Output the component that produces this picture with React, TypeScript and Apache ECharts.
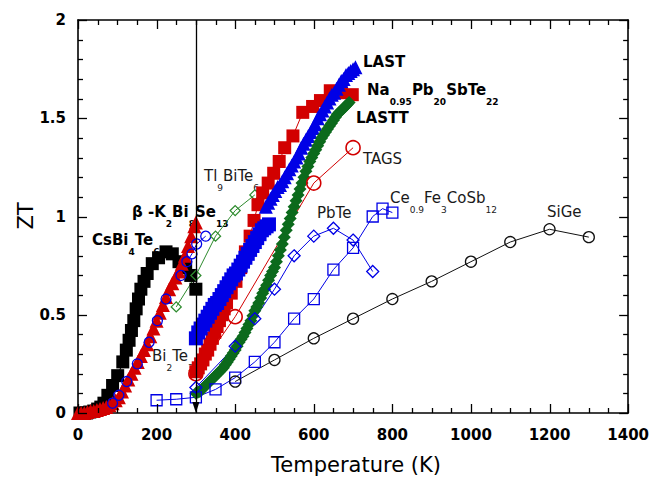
import React, { useEffect, useRef } from "react";
import * as echarts from "echarts";

// ---------- data: [Temperature (K), ZT] ----------
const csBi4Te6 = [[5,0],[14,0],[22,0],[30,0.005],[40,0.01],[50,0.02],[58,0.03],[66,0.05],[76,0.09],[88,0.14],[101,0.19],[114,0.26],[123,0.32],[130,0.37],[136,0.42],[142,0.47],[148,0.53],[154,0.58],[160,0.63],[168,0.67],[176,0.71],[189,0.76],[205,0.79],[224,0.82],[240,0.81],[257,0.77],[274,0.74],[287,0.70],[300,0.63]];
const betaK2Bi8Se13 = [[0,0],[8,0],[16,0],[24,0.005],[32,0.01],[40,0.01],[48,0.015],[56,0.02],[64,0.025],[72,0.03],[80,0.04],[88,0.05],[96,0.065],[104,0.08],[112,0.11],[120,0.14],[128,0.17],[136,0.2],[144,0.23],[152,0.26],[160,0.29],[168,0.32],[176,0.35],[184,0.39],[192,0.43],[200,0.47],[208,0.51],[216,0.55],[224,0.59],[232,0.63],[240,0.66],[248,0.69],[256,0.72],[264,0.76],[272,0.8],[280,0.85],[288,0.9],[296,0.95],[300,0.97]];
const bi2Te3 = [[88,0.05],[104,0.09],[124,0.16],[151,0.25],[181,0.36],[202,0.47],[224,0.58],[262,0.70],[277,0.77],[290,0.81],[302,0.86],[325,0.90]];
const tl9BiTe6 = [[250,0.54],[300,0.70],[350,0.90],[400,1.03],[450,1.11]];
const naPbSbTe = [[300,0.21],[306,0.23],[312,0.25],[318,0.27],[324,0.30],[330,0.32],[336,0.35],[342,0.38],[348,0.41],[354,0.44],[360,0.47],[366,0.50],[372,0.53],[378,0.56],[390,0.61],[402,0.67],[414,0.74],[426,0.82],[438,0.90],[448,0.98],[458,1.06],[470,1.12],[484,1.17],[498,1.22],[512,1.28],[526,1.35],[547,1.41],[572,1.53],[597,1.56],[617,1.59],[642,1.64],[670,1.63],[698,1.62]];
const lastSquares = [[300,0.38],[306,0.41],[312,0.43],[318,0.45],[324,0.47],[330,0.49],[336,0.51],[342,0.53],[348,0.55],[354,0.56],[360,0.58],[366,0.60],[372,0.62],[378,0.64],[384,0.66],[390,0.68],[396,0.70],[402,0.71],[408,0.73],[414,0.75],[420,0.77],[426,0.79],[432,0.81],[438,0.83],[444,0.85],[450,0.87],[456,0.89],[462,0.91],[468,0.93],[474,0.94],[480,0.95],[486,0.96]];
const last = [[478,1.05],[484,1.07],[490,1.09],[496,1.11],[502,1.13],[508,1.15],[514,1.16],[520,1.18],[526,1.2],[532,1.22],[538,1.24],[544,1.26],[550,1.28],[556,1.3],[562,1.32],[568,1.35],[574,1.37],[580,1.39],[586,1.41],[592,1.43],[598,1.45],[604,1.47],[610,1.5],[616,1.52],[622,1.54],[628,1.56],[634,1.58],[640,1.6],[646,1.62],[652,1.63],[658,1.65],[664,1.67],[670,1.69],[676,1.7],[682,1.72],[688,1.73],[694,1.74],[700,1.75],[706,1.76]];
const lastt = [[300,0.10],[305,0.105],[310,0.11],[315,0.12],[320,0.13],[325,0.14],[330,0.15],[335,0.16],[340,0.17],[345,0.18],[350,0.19],[355,0.20],[360,0.21],[365,0.22],[370,0.23],[375,0.245],[380,0.26],[385,0.275],[390,0.29],[395,0.305],[400,0.32],[405,0.34],[410,0.36],[415,0.375],[420,0.39],[425,0.41],[430,0.43],[435,0.45],[440,0.47],[445,0.495],[450,0.52],[455,0.54],[460,0.56],[465,0.585],[470,0.61],[475,0.63],[480,0.65],[485,0.675],[490,0.70],[495,0.72],[500,0.74],[505,0.77],[510,0.80],[515,0.83],[520,0.86],[525,0.895],[530,0.93],[535,0.96],[540,0.99],[545,1.02],[550,1.05],[555,1.08],[560,1.11],[565,1.14],[570,1.17],[575,1.20],[580,1.23],[585,1.255],[590,1.28],[595,1.30],[600,1.32],[605,1.34],[610,1.36],[615,1.38],[620,1.40],[625,1.415],[630,1.43],[635,1.445],[640,1.46],[645,1.475],[650,1.49],[655,1.505],[660,1.52],[665,1.53],[670,1.54],[675,1.55],[680,1.56],[685,1.57],[690,1.58]];
const tags = [[300,0.2],[400,0.49],[600,1.17],[700,1.35]];
const pbTe = [[300,0.13],[400,0.34],[450,0.48],[500,0.63],[550,0.8],[600,0.9],[650,0.94],[700,0.88],[750,0.72]];
const ceFeCoSb = [[200,0.065],[250,0.07],[300,0.08],[350,0.12],[400,0.18],[450,0.26],[500,0.36],[550,0.48],[600,0.58],[650,0.73],[700,0.84],[750,1.0],[775,1.04],[800,1.02]];
const siGe = [[400,0.16],[500,0.27],[600,0.38],[700,0.48],[800,0.58],[900,0.67],[1000,0.77],[1100,0.87],[1200,0.935],[1300,0.895]];

// ---------- axes ----------
const X_MIN = 0, X_MAX = 1400, X_STEP = 200, X_MINOR_SPLIT = 4;
const Y_MIN = 0, Y_MAX = 2, Y_STEP = 0.5, Y_MINOR_SPLIT = 5;
const X_NAME = "Temperature (K)";
const Y_NAME = "ZT";

// tick values (major and minor) derived from the axis settings
const xTickValues: [number, boolean][] = [];
for (let i = 0; i <= ((X_MAX - X_MIN) / X_STEP) * X_MINOR_SPLIT; i++) {
  xTickValues.push([X_MIN + (i * X_STEP) / X_MINOR_SPLIT, i % X_MINOR_SPLIT === 0]);
}
const yTickValues: [number, boolean][] = [];
for (let i = 0; i <= ((Y_MAX - Y_MIN) / Y_STEP) * Y_MINOR_SPLIT; i++) {
  yTickValues.push([+(Y_MIN + (i * Y_STEP) / Y_MINOR_SPLIT).toFixed(3), i % Y_MINOR_SPLIT === 0]);
}

const FONT = "DejaVu Sans";
const RED = "#d20000";
const BLUE = "#0000e6";
const GREEN = "#0c6a1c";
const LGREEN = "#2e8b2e";

type Part = [string, number];
const annotations: { parts: Part[]; x: number; cy: number; bold: boolean }[] = [
  { parts: [["CsBi", 0], ["4", 1], ["Te", 0], ["6", 1]], x: 92, cy: 240, bold: true },
  { parts: [["β -K", 0], ["2", 1], ["Bi", 0], ["8", 1], ["Se", 0], ["13", 1]], x: 132, cy: 212, bold: true },
  { parts: [["Tl", 0], ["9", 1], ["BiTe", 0], ["6", 1]], x: 204, cy: 176, bold: false },
  { parts: [["Bi", 0], ["2", 1], ["Te", 0], ["3", 1]], x: 152, cy: 356, bold: false },
  { parts: [["LAST", 0]], x: 363, cy: 62, bold: true },
  { parts: [["Na", 0], ["0.95", 1], ["Pb", 0], ["20", 1], ["SbTe", 0], ["22", 1]], x: 367, cy: 90, bold: true },
  { parts: [["LASTT", 0]], x: 356, cy: 118, bold: true },
  { parts: [["TAGS", 0]], x: 363, cy: 159, bold: false },
  { parts: [["PbTe", 0]], x: 317, cy: 213, bold: false },
  { parts: [["Ce", 0], ["0.9", 1], ["Fe", 0], ["3", 1], ["CoSb", 0], ["12", 1]], x: 390, cy: 198, bold: false },
  { parts: [["SiGe", 0]], x: 547, cy: 212, bold: false },
];

function mk(name: string, data: number[][], symbol: string, size: number, color: string, filled: boolean, extra: any = {}) {
  return {
    type: "line",
    name,
    data,
    symbol,
    symbolSize: size,
    showSymbol: true,
    clip: false,
    lineStyle: { color, width: 1 },
    itemStyle: filled
      ? { color, borderWidth: 0 }
      : { color: "rgba(0,0,0,0)", borderColor: color, borderWidth: 1.3 },
    emphasis: { disabled: true },
    ...extra,
  };
}

function makeAxis(kind: "x" | "y", position: string, showLabel: boolean) {
  return {
    type: "value",
    position,
    min: kind === "x" ? X_MIN : Y_MIN,
    max: kind === "x" ? X_MAX : Y_MAX,
    interval: kind === "x" ? X_STEP : Y_STEP,
    axisLine: { show: true, onZero: false, lineStyle: { color: "#000", width: 1.6 } },
    axisTick: { show: false },
    minorTick: { show: false },
    splitLine: { show: false },
    axisLabel: {
      show: showLabel,
      color: "#000",
      fontFamily: FONT,
      fontWeight: "bold",
      fontSize: 15,
      margin: kind === "x" ? 14 : 12,
      formatter: (v: number) => String(v),
    },
  };
}

export default function App() {
  const ref = useRef<HTMLDivElement>(null);
  useEffect(() => {
    if (!ref.current) return;
    const chart = echarts.init(ref.current, undefined, { renderer: "svg" });
    const graphic: any[] = annotations.map((a) => {
      const fill = a.bold ? "#000" : "#1a1a1a";
      const weight = a.bold ? "bold" : "normal";
      return {
        type: "text",
        left: a.x,
        top: a.cy - 7.5,
        silent: true,
        style: {
          text: a.parts.map(([t, s]) => `{${s ? "s" : "m"}|${t}}`).join(""),
          rich: {
            m: { fontFamily: FONT, fontSize: 15, fontWeight: weight, fill, verticalAlign: "top", lineHeight: 15 },
            s: { fontFamily: FONT, fontSize: 9, fontWeight: weight, fill, verticalAlign: "bottom", lineHeight: 24 },
          },
        },
      };
    });
    graphic.push({
      type: "text", x: 356, y: 465, silent: true,
      style: { text: X_NAME, fontFamily: FONT, fontSize: 21, fill: "#000", align: "center", verticalAlign: "middle" },
    });
    graphic.push({
      type: "text", x: 26, y: 216, rotation: Math.PI / 2, silent: true,
      style: { text: Y_NAME, fontFamily: FONT, fontSize: 21, fill: "#000", align: "center", verticalAlign: "middle" },
    });
    chart.setOption({
      animation: false,
      backgroundColor: "#fff",
      grid: { left: 78, right: 19, top: 20, bottom: 64, containLabel: false },
      xAxis: [makeAxis("x", "bottom", true), makeAxis("x", "top", false)],
      yAxis: [makeAxis("y", "left", true), makeAxis("y", "right", false)],
      series: [
        mk("CsBi4Te6", csBi4Te6, "rect", 13, "#000", true, {
          markLine: {
            silent: true,
            symbol: ["none", "triangle"],
            symbolSize: [7, 11],
            label: { show: false },
            lineStyle: { color: "#000", width: 1.3, type: "solid" },
            data: [[{ coord: [300, 2] }, { coord: [300, 0.028] }]],
          },
        }),
        mk("β-K2Bi8Se13", betaK2Bi8Se13, "triangle", 14, RED, true),
        mk("Bi2Te3", bi2Te3, "circle", 10, BLUE, false),
        mk("Tl9BiTe6", tl9BiTe6, "diamond", 10, LGREEN, false),
        mk("Na0.95Pb20SbTe22", naPbSbTe, "rect", 13, RED, true),
        mk("LAST (300-490 K)", lastSquares, "rect", 14, BLUE, true),
        mk("LAST", last, "triangle", 14, BLUE, true),
        mk("LASTT", lastt, "diamond", 13, GREEN, true),
        mk("TAGS", tags, "circle", 14, RED, false, { itemStyle: { color: "rgba(0,0,0,0)", borderColor: RED, borderWidth: 1.6 } }),
        mk("PbTe", pbTe, "diamond", 12, BLUE, false),
        mk("Ce0.9Fe3CoSb12", ceFeCoSb, "rect", 11, BLUE, false),
        mk("SiGe", siGe, "circle", 11, "#111", false),
      ],
      graphic,
    });

    // tick marks on all four sides, placed through the axes' own scales
    const finder = { xAxisIndex: 0, yAxisIndex: 0 };
    const tickStyle = { stroke: "#000", lineWidth: 1.3 };
    const ticks: any[] = [];
    const line = (x1: number, y1: number, x2: number, y2: number) => ({
      type: "line", z: 1000, silent: true, shape: { x1, y1, x2, y2 }, style: tickStyle,
    });
    xTickValues.forEach(([v, major]) => {
      const len = major ? 9 : 5;
      const b = chart.convertToPixel(finder, [v, Y_MIN]) as number[];
      const t = chart.convertToPixel(finder, [v, Y_MAX]) as number[];
      const x = Math.round(b[0]) + 0.5;
      ticks.push(line(x, b[1], x, b[1] - len));
      ticks.push(line(x, t[1], x, t[1] + len));
    });
    yTickValues.forEach(([v, major]) => {
      const len = major ? 9 : 5;
      const l = chart.convertToPixel(finder, [X_MIN, v]) as number[];
      const r = chart.convertToPixel(finder, [X_MAX, v]) as number[];
      const y = Math.round(l[1]) + 0.5;
      ticks.push(line(l[0], y, l[0] + len, y));
      ticks.push(line(r[0], y, r[0] - len, y));
    });
    chart.setOption({ graphic: [...graphic, ...ticks] });

    return () => chart.dispose();
  }, []);
  return <div ref={ref} style={{ position: "fixed", left: 0, top: 0, width: 652, height: 477 }} />;
}
